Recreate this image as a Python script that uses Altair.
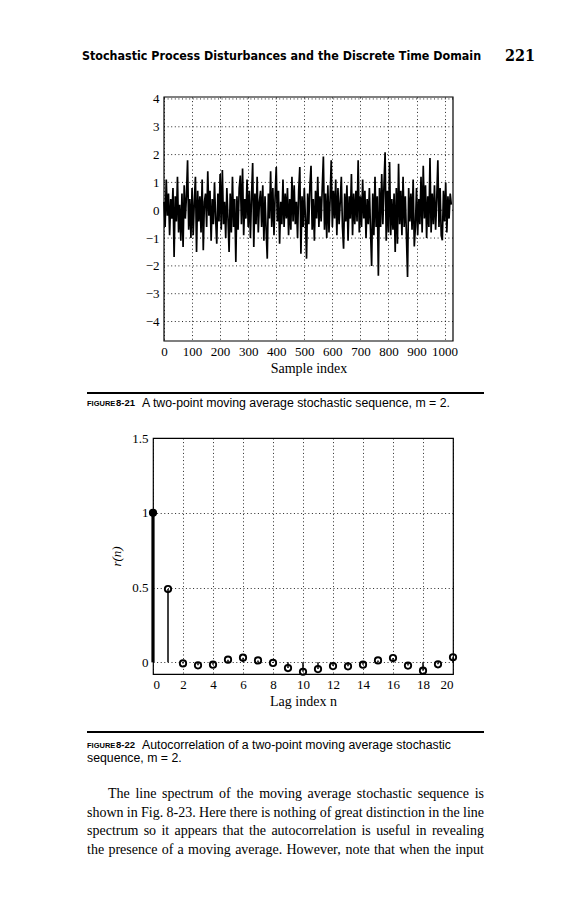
import altair as alt
import pandas as pd

# ---------------- data ----------------
# Fig 8-21: two-point moving average sequence (values read approx. from the picture, every 4th sample)
noise_vals = [
    0.3, -0.6, 1.1, -0.2, 0.6, -0.9, 0.4, -0.3, 0.8, -1.68, 0.5, -0.4, 1.2, -0.8, 0.2, -1.1,
    0.6, -1.32, 0.9, -0.3, 0.5, 1.8, -0.7, 0.4, -1.0, 0.8, -0.9, 0.3, 1.2, -1.5, 0.7, -0.4,
    0.5, -0.8, 1.1, -1.44, 0.3, 0.6, -0.6, 1.4, -0.2, 0.7, -1.1, 0.4, -0.5, 1.0, -0.3, -1.2,
    0.6, -0.4, 1.3, -0.7, 1.45, -0.5, 0.3, -1.0, 0.8, -0.3, -1.5, 0.6, -0.8, 1.2, -0.6, 0.4,
    -1.86, 0.5, -0.7, 0.8, 1.25, -0.5, 1.5, -0.9, 0.4, -0.3, 1.1, -0.6, 0.7, -1.0, 0.5, 1.7,
    -1.32, 0.6, -0.5, 1.2, -0.8, 0.3, 0.7, -0.6, 0.9, -1.1, 0.5, -0.7, -1.74, 0.6, -0.3, 1.4,
    -0.6, 0.8, -0.9, 0.5, 1.55, -0.4, 0.7, -1.2, 0.3, -0.5, 1.1, -0.6, 0.6, -0.3, 0.8, -0.9,
    0.4, -0.7, 1.2, -0.4, 0.9, -0.5, 0.3, -1.0, 0.7, 1.55, -1.56, 0.5, -0.6, 0.8, -0.3, -1.74,
    0.6, -0.5, 0.9, 1.6, -0.7, 0.4, -1.1, 0.7, -0.3, 1.2, -0.6, 0.5, -0.4, 0.8, 1.93, -0.7,
    0.6, -1.0, 0.9, -0.8, 0.4, 1.8, -0.6, 0.7, -0.3, 1.1, -0.9, 0.8, -0.5, 0.3, 1.2, -0.6,
    -1.38, 0.6, -0.4, 0.9, -1.1, 0.5, -0.3, 1.3, -0.9, 0.6, -0.5, 0.7, -0.4, 1.8, -0.8, 0.5,
    -0.6, 1.1, -0.3, 0.7, -1.0, 0.4, -0.5, 0.8, -0.7, -2.0, 0.6, -0.9, 1.2, -0.6, 0.5, -2.35,
    0.8, -0.6, 1.3, -0.5, 0.9, 2.08, -1.1, 0.7, -0.8, 1.73, -0.9, 0.4, -0.7, 0.6, -1.5, 0.8,
    -1.2, 1.67, -0.5, 0.7, -0.9, 1.2, -0.6, 0.5, -0.9, -2.4, 0.8, -0.4, 0.6, -0.7, 1.1, -1.3,
    -0.6, 0.8, -0.9, 0.4, -0.5, 1.2, -0.8, 1.6, -0.3, 0.9, -1.0, 0.5, -0.6, 1.88, -0.8, 0.6,
    -0.5, 0.9, -0.7, 0.4, 1.8, -0.6, 0.8, -0.9, -1.08, 0.7, -0.4, 1.0, -0.8, 0.5, -0.3, 0.6,
    0.2,
]
sample_index = list(range(0, 4 * len(noise_vals), 4))
x_ticks1 = [0, 100, 200, 300, 400, 500, 600, 700, 800, 900, 1000]
y_ticks1 = [-4, -3, -2, -1, 0, 1, 2, 3, 4]

# Fig 8-22: autocorrelation
lags = list(range(21))
r_vals = [1.0, 0.49, -0.007, -0.02, -0.016, 0.018, 0.031, 0.013, -0.004, -0.038, -0.063,
          -0.045, -0.025, -0.027, -0.016, 0.013, 0.029, -0.022, -0.056, -0.013, 0.034]
x_ticks2 = [0, 2, 4, 6, 8, 10, 12, 14, 16, 18, 20]
y_ticks2 = [0, 0.5, 1, 1.5]

# page text
header_text = "Stochastic Process Disturbances and the Discrete Time Domain"
page_no = "221"
caption1 = ["FIGURE", "8-21", "A two-point moving average stochastic sequence, m = 2."]
caption2 = ["FIGURE", "8-22", "Autocorrelation of a two-point moving average stochastic",
            "sequence, m = 2."]
paragraph = [
    "The line spectrum of the moving average stochastic sequence is",
    "shown in Fig. 8-23. Here there is nothing of great distinction in the line",
    "spectrum so it appears that the autocorrelation is useful in revealing",
    "the presence of a moving average. However, note that when the input",
]

SERIF = "Liberation Serif"
SANS = "Liberation Sans"

# chart-1 group origin on the page (used to place page text)
OX, OY = 152, 96
INSET = 11  # chart-1 frame starts 11 px right of chart-2 frame


def txt(s, px, py, size, font, weight="normal", style="normal", align="left"):
    return alt.Chart(pd.DataFrame({"t": [s]})).mark_text(
        align=align, baseline="middle", font=font, fontSize=size,
        fontWeight=weight, fontStyle=style, color="black"
    ).encode(text="t:N", x=alt.value(px - OX), y=alt.value(py - OY))


def hrule(px1, px2, py, w):
    return alt.Chart(pd.DataFrame({"a": [0]})).mark_rule(color="black", strokeWidth=w).encode(
        x=alt.value(px1 - OX), x2=alt.value(px2 - OX), y=alt.value(py - OY))


# Times/Liberation Serif advance widths (per 1000 em) for justified paragraph lines
TW = {" ": 250, ",": 250, "-": 333, ".": 250, "T": 611, "H": 722, "F": 556, "I": 333,
      "a": 444, "b": 500, "c": 444, "d": 500, "e": 444, "f": 333, "g": 500, "h": 500,
      "i": 278, "j": 278, "k": 500, "l": 278, "m": 778, "n": 500, "o": 500, "p": 500,
      "q": 500, "r": 333, "s": 389, "t": 278, "u": 500, "v": 500, "w": 722, "x": 500,
      "y": 500, "z": 444}


def justified(line, px0, px1, py, size):
    words = line.split(" ")
    wid = [sum(TW.get(c, 500) for c in w) * size / 1000.0 for w in words]
    gap = (px1 - px0 - sum(wid)) / (len(words) - 1)
    out, x = [], px0
    for w, ww in zip(words, wid):
        out.append(txt(w, x, py, size, SERIF))
        x += ww + gap
    return out


grid_kw = dict(gridColor="black", gridDash=[1, 2.6], gridWidth=1, gridOpacity=0.85,
               ticks=False, domain=False, labelFont=SERIF, labelFontSize=13, labelColor="black",
               labelOverlap=False,
               titleFont=SERIF, titleFontSize=14, titleFontWeight="normal", titleColor="black")

# ---------------- chart 1 ----------------
W1, H1 = 300, 244
X1_MAX = 1030
x1_min = -INSET * X1_MAX / (W1 - INSET)
y1_dom = [-4.7, 4.07]
df1 = pd.DataFrame({"s": sample_index, "v": noise_vals})
xsc1 = alt.Scale(domain=[x1_min, X1_MAX], nice=False, zero=False)
ysc1 = alt.Scale(domain=y1_dom, nice=False, zero=False)
xaxis1 = alt.Axis(values=x_ticks1, title="Sample index", labelPadding=4, titlePadding=3,
                  format="d", grid=True, titleX=INSET + (W1 - INSET) / 2, **grid_kw)
yaxis1 = alt.Axis(values=y_ticks1, title=None, labelPadding=5, format="d", grid=False,
                  offset=-INSET, **grid_kw)

hgrid = alt.Chart(pd.DataFrame({"v": y_ticks1})).mark_rule(
    color="black", strokeDash=[1, 2.6], strokeWidth=1, opacity=0.85
).encode(x=alt.datum(0, scale=xsc1, axis=xaxis1), x2=alt.datum(X1_MAX),
         y=alt.Y("v:Q", scale=ysc1, axis=yaxis1))

line1 = alt.Chart(df1).mark_line(color="black", strokeWidth=1.7, clip=True).encode(
    x=alt.X("s:Q", scale=xsc1, axis=xaxis1),
    y=alt.Y("v:Q", scale=ysc1, axis=yaxis1),
)

frame1 = alt.Chart(pd.DataFrame({"a": [0]})).mark_rect(
    fillOpacity=0, stroke="black", strokeWidth=1.2
).encode(x=alt.value(INSET), x2=alt.value(W1), y=alt.value(0), y2=alt.value(H1))

anchor = alt.Chart(pd.DataFrame({"a": [0]})).mark_rect(color="white").encode(
    x=alt.value(8 - OX), x2=alt.value(9 - OX), y=alt.value(8 - OY), y2=alt.value(9 - OY))

page_layers = [
    anchor,
    txt(header_text, 81, 55, 12.4, "DejaVu Sans Condensed", weight="bold"),
    txt(page_no, 504, 55, 16, "DejaVu Serif Condensed", weight="bold"),
    hrule(86, 483, 392, 1.8),
    txt(caption1[0], 86, 402.5, 7.5, SANS, weight="bold"),
    txt(caption1[1], 115, 402, 9.5, SANS, weight="bold"),
    txt(caption1[2], 141, 402, 12.3, SANS),
    hrule(86, 483, 731, 1.8),
    txt(caption2[0], 86, 744.5, 7.5, SANS, weight="bold"),
    txt(caption2[1], 115, 744, 9.5, SANS, weight="bold"),
    txt(caption2[2], 141, 744, 12.3, SANS),
    txt(caption2[3], 86, 757, 12.3, SANS),
]
page_layers += justified(paragraph[0], 107, 483, 793, 14)
page_layers += justified(paragraph[1], 86, 483, 812, 14)
page_layers += justified(paragraph[2], 86, 483, 830, 14)
page_layers += justified(paragraph[3], 86, 483, 849, 14)

chart1 = alt.layer(line1, hgrid, frame1, *page_layers).properties(width=W1, height=H1)

# ---------------- chart 2 ----------------
W2, H2 = 300, 236
df2 = pd.DataFrame({"n": lags, "r": r_vals})
xs2 = alt.X("n:Q", scale=alt.Scale(domain=[0, 20], nice=False, zero=False),
            axis=alt.Axis(values=x_ticks2, title="Lag index n", labelPadding=4, titlePadding=3,
                          format="d", grid=True, **grid_kw))
ys2 = alt.Y("r:Q", scale=alt.Scale(domain=[-0.078, 1.5], nice=False, zero=False),
            axis=alt.Axis(values=y_ticks2, title="r(n)", labelPadding=5, titlePadding=8,
                          format="~g", titleFontStyle="italic", grid=True,
                          **{k: v for k, v in grid_kw.items() if k != "titleFontSize"},
                          titleFontSize=13))
base2 = alt.Chart(df2)
stems = base2.mark_rule(color="black").encode(
    x=xs2, y=ys2, y2=alt.datum(0),
    strokeWidth=alt.condition("datum.n == 0", alt.value(3.2), alt.value(1.5)))
pts = base2.mark_point(shape="circle", filled=False, color="black", size=40,
                       strokeWidth=1.9, opacity=1).encode(x=xs2, y=ys2)
pt0 = base2.transform_filter("datum.n == 0").mark_point(
    shape="circle", filled=True, color="black", size=40, opacity=1).encode(x=xs2, y=ys2)
chart2 = alt.layer(stems, pts, pt0).properties(
    width=W2, height=H2, view=alt.ViewBackground(stroke="black", strokeWidth=1.2))

chart = alt.vconcat(chart1, chart2, spacing=97, bounds="flush").properties(
    padding=0, background="white"
).configure_view(stroke="transparent")

chart.save("out.html", embed_options={"renderer": "svg", "actions": False})
